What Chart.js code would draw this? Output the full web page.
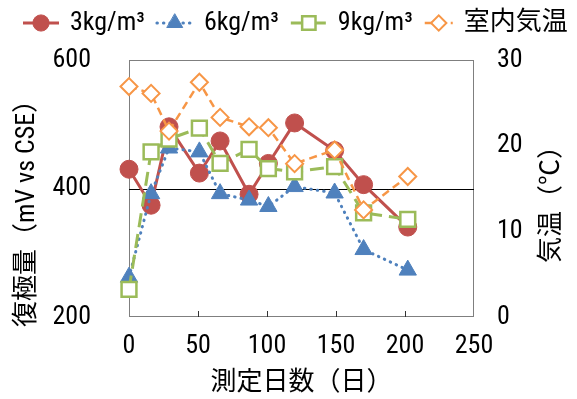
<!DOCTYPE html>
<html lang="ja">
<head>
<meta charset="utf-8">
<script src="https://cdn.jsdelivr.net/npm/chart.js@4.4.0/dist/chart.umd.min.js"></script>
<style>
  html, body { margin: 0; padding: 0; background: #fff; }
  canvas { display: block; }
</style>
</head>
<body>
<canvas id="chart" width="577" height="399"></canvas>
<script>
// --- Data ---
const days = [0, 16, 29, 51, 66, 87, 101, 120, 149, 170, 202];
const dep3 = [430, 374, 496, 424, 474, 391, 439, 502, 459, 406, 340];
const dep6 = [262, 392, 463, 457, 392, 382, 372, 403, 393, 305, 273];
const dep9 = [243, 457, 477, 494, 439, 461, 431, 426, 434, 362, 352];
const airTemp = [26.9, 26.1, 21.7, 27.4, 23.3, 22.2, 22.1, 17.9, 19.5, 12.5, 16.4];

const seriesNames = ['3kg/m³', '6kg/m³', '9kg/m³', '室内気温'];
const xTicks = [0, 50, 100, 150, 200, 250];
const leftTicks = [200, 400, 600];
const rightTicks = [0, 10, 20, 30];

const FONT = '"Roboto Condensed", "Noto Sans CJK JP", sans-serif';
Chart.defaults.font.family = FONT;
Chart.defaults.font.size = 26;
Chart.defaults.color = '#000';

const toPoints = ys => ys.map((y, i) => ({ x: days[i], y: y }));

// legend line length per series (the last one is shorter in the original)
const legendLine = [36, 36, 36, 28];

function rotatedTitle(ctx, text, x, y) {
    ctx.save();
    ctx.translate(x, y);
    ctx.rotate(-Math.PI / 2);
    ctx.font = '26px ' + FONT;
    ctx.fillStyle = '#000';
    ctx.textAlign = 'center';
    ctx.textBaseline = 'middle';
    ctx.fillText(text, 0, 0);
    ctx.restore();
}

// --- Extra drawing: frame, 400 line, inner x ticks, legend, y titles ---
const extras = {
    id: 'extras',
    beforeDatasetsDraw(chart) {
        const { ctx, chartArea: a, scales } = chart;
        ctx.save();
        ctx.lineWidth = 1;
        ctx.strokeStyle = '#7f7f7f';
        ctx.strokeRect(a.left + 0.5, a.top + 0.5, a.width - 1, a.height - 1);

        const y400 = Math.round(scales.y.getPixelForValue(400)) + 0.5;
        ctx.strokeStyle = '#000';
        ctx.beginPath();
        ctx.moveTo(a.left, y400);
        ctx.lineTo(a.right, y400);
        ctx.stroke();

        ctx.strokeStyle = '#333';
        scales.x.ticks.forEach(t => {
            if (t.value <= 0 || t.value >= 250) return;
            const x = Math.round(scales.x.getPixelForValue(t.value)) + 0.5;
            ctx.beginPath();
            ctx.moveTo(x, a.bottom);
            ctx.lineTo(x, a.bottom - 6);
            ctx.stroke();
        });
        ctx.restore();
    },
    afterDraw(chart) {
        const { ctx } = chart;
        const cy = 23;
        let x = 23;
        ctx.save();
        ctx.font = '26px ' + FONT;
        ctx.textBaseline = 'middle';
        ctx.textAlign = 'left';
        chart.data.datasets.forEach((ds, i) => {
            const len = legendLine[i];
            ctx.save();
            ctx.strokeStyle = ds.borderColor;
            ctx.lineWidth = ds.borderWidth;
            ctx.lineCap = ds.borderCapStyle || 'butt';
            ctx.setLineDash(ds.borderDash || []);
            ctx.beginPath();
            ctx.moveTo(x, cy);
            ctx.lineTo(x + len, cy);
            ctx.stroke();
            ctx.setLineDash([]);
            ctx.fillStyle = ds.pointBackgroundColor;
            ctx.strokeStyle = ds.pointBorderColor;
            ctx.lineWidth = ds.pointBorderWidth;
            Chart.helpers.drawPoint(ctx, {
                pointStyle: ds.pointStyle, rotation: 0,
                radius: ds.pointRadius * 0.9, borderWidth: ds.pointBorderWidth
            }, x + len / 2, cy);
            ctx.restore();
            ctx.fillStyle = '#000';
            const tx = x + len + 11;
            ctx.fillText(ds.label, tx, cy);
            x = tx + ctx.measureText(ds.label).width + 12;
        });
        ctx.restore();

        // both y titles read bottom to top
        rotatedTitle(ctx, '復極量（mV vs CSE）', 27, 207);
        rotatedTitle(ctx, '気温（℃）', 552, 198);
    }
};

const hiddenAxisLines = { display: false, drawTicks: false };

new Chart(document.getElementById('chart').getContext('2d'), {
    type: 'line',
    data: {
        datasets: [{
            label: seriesNames[0],
            data: toPoints(dep3),
            order: 4,
            borderColor: '#C0504D',
            backgroundColor: '#C0504D',
            borderWidth: 3,
            pointStyle: 'circle',
            pointRadius: 9,
            pointBorderWidth: 1,
            pointBackgroundColor: '#C0504D',
            pointBorderColor: '#C0504D'
        }, {
            label: seriesNames[1],
            data: toPoints(dep6),
            order: 3,
            borderColor: '#4F81BD',
            backgroundColor: '#4F81BD',
            borderWidth: 3,
            borderDash: [0.5, 6],
            borderCapStyle: 'round',
            pointStyle: 'triangle',
            pointRadius: 10,
            pointBorderWidth: 1,
            pointBackgroundColor: '#4F81BD',
            pointBorderColor: '#4F81BD'
        }, {
            label: seriesNames[2],
            data: toPoints(dep9),
            order: 2,
            borderColor: '#9BBB59',
            backgroundColor: '#fff',
            borderWidth: 3,
            borderDash: [14, 7],
            pointStyle: 'rect',
            pointRadius: 10.5,
            pointBorderWidth: 2.5,
            pointBackgroundColor: '#fff',
            pointBorderColor: '#9BBB59'
        }, {
            label: seriesNames[3],
            data: toPoints(airTemp),
            yAxisID: 'y2',
            order: 1,
            borderColor: '#F79646',
            backgroundColor: '#fff',
            borderWidth: 2.5,
            borderDash: [8, 5],
            pointStyle: 'rectRot',
            pointRadius: 8.5,
            pointBorderWidth: 2,
            pointBackgroundColor: '#fff',
            pointBorderColor: '#F79646'
        }]
    },
    options: {
        responsive: false,
        animation: false,
        clip: false,
        layout: { padding: { top: 60, left: 0, right: 0, bottom: 0 } },
        elements: { line: { tension: 0, fill: false } },
        scales: {
            x: {
                type: 'linear', min: 0, max: 250,
                afterBuildTicks: s => { s.ticks = xTicks.map(v => ({ value: v })); },
                ticks: { padding: 14 },
                grid: hiddenAxisLines,
                border: { display: false },
                title: { display: true, text: '測定日数（日）', padding: 0 },
                afterFit: s => { s.height = 82; }
            },
            y: {
                position: 'left', min: 200, max: 600,
                afterBuildTicks: s => { s.ticks = leftTicks.map(v => ({ value: v })); },
                ticks: { padding: 38 },
                grid: hiddenAxisLines,
                border: { display: false },
                afterFit: s => { s.width = 129; }
            },
            y2: {
                position: 'right', min: 0, max: 30,
                afterBuildTicks: s => { s.ticks = rightTicks.map(v => ({ value: v })); },
                ticks: { padding: 23 },
                grid: hiddenAxisLines,
                border: { display: false },
                afterFit: s => { s.width = 103; }
            }
        },
        plugins: {
            tooltip: { enabled: false },
            legend: { display: false }
        }
    },
    plugins: [extras]
});
</script>
</body>
</html>
